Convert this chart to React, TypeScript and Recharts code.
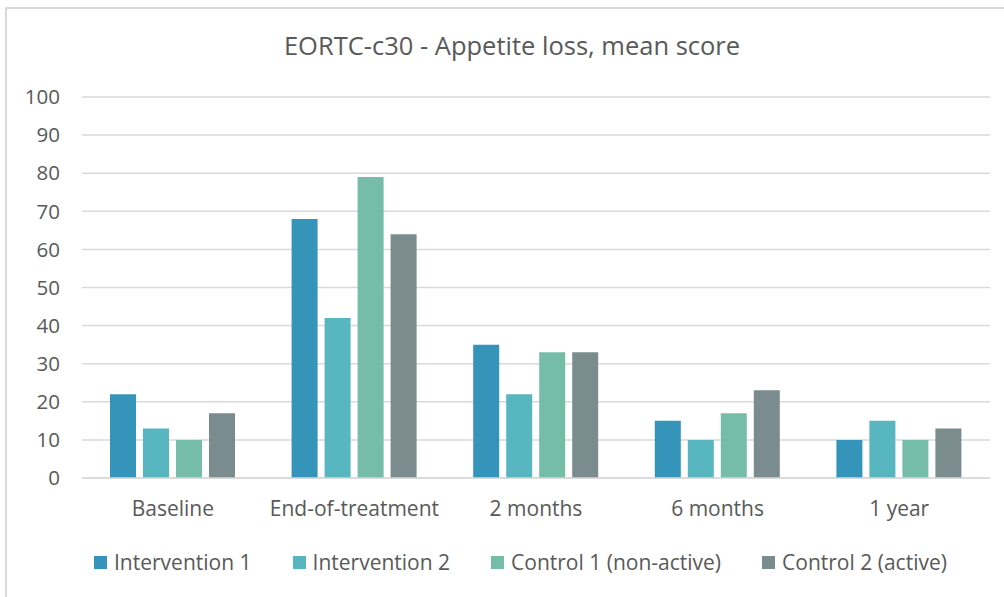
import { Bar, BarChart, CartesianGrid, Legend, XAxis, YAxis } from "recharts";

const categories = ["Baseline", "End-of-treatment", "2 months", "6 months", "1 year"];
const intervention1 = [22, 68, 35, 15, 10];
const intervention2 = [13, 42, 22, 10, 15];
const control1 = [10, 79, 33, 17, 10];
const control2 = [17, 64, 33, 23, 13];
const yTicks = [0, 10, 20, 30, 40, 50, 60, 70, 80, 90, 100];

const series = [
  { key: "int1", label: "Intervention 1", color: "#3494BA" },
  { key: "int2", label: "Intervention 2", color: "#58B6C0" },
  { key: "ctl1", label: "Control 1 (non-active)", color: "#75BDA7" },
  { key: "ctl2", label: "Control 2 (active)", color: "#7A8C8E" },
];

const data = categories.map((name, i) => ({
  name,
  int1: intervention1[i],
  int2: intervention2[i],
  ctl1: control1[i],
  ctl2: control2[i],
}));

const font = "'Open Sans', sans-serif";
const textColor = "#595959";

function LegendBox() {
  return (
    <div
      style={{
        display: "flex",
        gap: 41,
        paddingLeft: 94,
        fontFamily: font,
        fontSize: 21,
        color: textColor,
        lineHeight: "22px",
      }}
    >
      {series.map((s) => (
        <div key={s.key} style={{ display: "flex", alignItems: "center", gap: 7 }}>
          <span style={{ width: 13, height: 13, background: s.color, display: "inline-block" }} />
          <span>{s.label}</span>
        </div>
      ))}
    </div>
  );
}

export default function App() {
  return (
    <div
      style={{
        position: "fixed",
        left: 0,
        top: 0,
        width: 1004,
        height: 597,
        overflow: "hidden",
        background: "#fff",
      }}
    >
      <div
        style={{
          position: "absolute",
          left: 5,
          top: 7,
          width: 1100,
          height: 700,
          border: "2px solid #d9d9d9",
        }}
      />
      <div
        style={{
          position: "absolute",
          left: 0,
          top: 28,
          width: 1024,
          textAlign: "center",
          fontFamily: font,
          fontSize: 25.5,
          color: textColor,
        }}
      >
        EORTC-c30 - Appetite loss, mean score
      </div>
      <div style={{ position: "absolute", left: 0, top: 0 }}>
        <BarChart
          width={1004}
          height={597}
          data={data}
          margin={{ left: 0, right: 14, top: 97, bottom: 0 }}
          barCategoryGap={28}
          barGap={7}
        >
          <CartesianGrid stroke="#d9d9d9" strokeWidth={1.5} vertical={false} />
          <XAxis
            dataKey="name"
            axisLine={{ stroke: "#d9d9d9", strokeWidth: 1.5 }}
            tickLine={false}
            tickSize={0}
            tickMargin={23}
            height={97}
            interval={0}
            tick={{ fontSize: 21, fill: textColor, fontFamily: font }}
          />
          <YAxis
            domain={[0, 100]}
            ticks={yTicks}
            axisLine={false}
            tickLine={false}
            tickSize={0}
            tickMargin={22}
            width={82}
            tick={{ fontSize: 20.5, fill: textColor, fontFamily: font }}
          />
          <Legend
            content={() => <LegendBox />}
            wrapperStyle={{ position: "absolute", top: 551, left: 0, width: 1004 }}
          />
          {series.map((s) => (
            <Bar
              key={s.key}
              dataKey={s.key}
              name={s.label}
              fill={s.color}
              isAnimationActive={false}
            />
          ))}
        </BarChart>
      </div>
    </div>
  );
}
